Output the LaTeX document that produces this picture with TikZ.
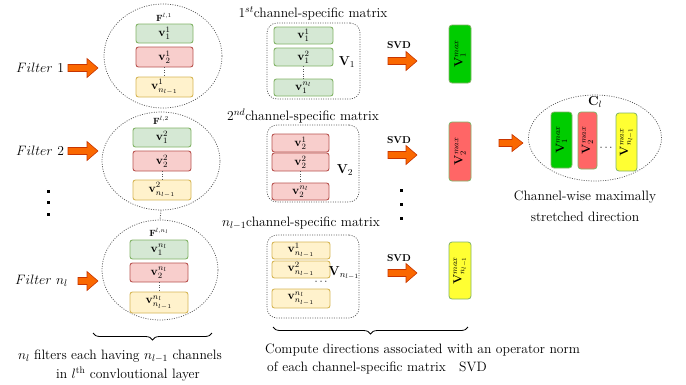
\RequirePackage{fix-cm}
\documentclass[tikz,border=0pt]{standalone}
\usepackage{amsmath}
\usetikzlibrary{shapes.geometric,decorations.pathreplacing}
\definecolor{gfill}{HTML}{D5E8D4}\definecolor{gdraw}{HTML}{82B366}
\definecolor{rfill}{HTML}{F8CECC}\definecolor{rdraw}{HTML}{B85450}
\definecolor{yfill}{HTML}{FFF2CC}\definecolor{ydraw}{HTML}{D6B656}
\definecolor{vgreen}{HTML}{00CC00}\definecolor{vred}{HTML}{FF6666}
\definecolor{vyellow}{HTML}{FFFF33}
\definecolor{arrfill}{HTML}{FA6800}\definecolor{arrdraw}{HTML}{C73500}
\definecolor{dotc}{HTML}{555555}
\newcommand\blockarr[4]{%
  \draw[barrow] (#1,#3-3.5) -- (#2-11,#3-3.5) -- (#2-11,#3-#4) -- (#2,#3)
    -- (#2-11,#3+#4) -- (#2-11,#3+3.5) -- (#1,#3+3.5) -- cycle;}
\tikzset{
  every node/.style={font=\fontsize{13.6}{16.3}\selectfont},
  ell/.style={ellipse, draw=dotc, dash pattern=on 1pt off 1.4pt, line width=0.7pt, inner sep=0pt},
  mrect/.style={draw=dotc, dash pattern=on 1pt off 1.4pt, line width=0.7pt, rounded corners=10pt, inner sep=0pt},
  sbox/.style={rectangle, rounded corners=2.5pt, line width=0.9pt, inner sep=0pt, font=\fontsize{11.8}{13}\selectfont},
  gb/.style={sbox, draw=gdraw, fill=gfill},
  rb/.style={sbox, draw=rdraw, fill=rfill},
  yb/.style={sbox, draw=ydraw, fill=yfill},
  vbox/.style={rectangle, rounded corners=3pt, draw=gdraw, line width=0.8pt, inner sep=0pt, rotate=90, font=\fontsize{12}{13}\selectfont},
  flab/.style={font=\fontsize{9}{10}\selectfont, inner sep=0pt},
  vlab/.style={font=\fontsize{13}{14}\selectfont, inner sep=0pt},
  svd/.style={font=\fontsize{10}{12}\selectfont\bfseries, inner sep=0pt},
  dotline/.style={draw=dotc, dash pattern=on 1pt off 1.4pt, line width=0.8pt},
  sqdot/.style={rectangle, fill=black, minimum size=3pt, inner sep=0pt},
  barrow/.style={fill=arrfill, draw=arrdraw, line width=0.6pt, line join=miter},
  brc/.style={decorate, decoration={brace, mirror, amplitude=7pt}, line width=0.8pt}
}
\begin{document}
\begin{tikzpicture}[x=1pt,y=-1pt]
\useasboundingbox (0,0) rectangle (686,384);

% ---------- left column: filters ----------
\node[ell, minimum width=118pt, minimum height=104pt] (e1) at (163,56) {};
\node[ell, minimum width=118pt, minimum height=98pt] (e2) at (161,161) {};
\node[ell, minimum width=116pt, minimum height=100pt] (e3) at (160,270) {};
\draw[dotline] (e2.south) -- (e3.north);

\node[flab] (f1) at (164,17) {$\mathbf{F}^{l,1}$};
\node[gb, minimum width=57pt, minimum height=19pt] (b11) at (164.5,33.5) {$\mathbf{v}_1^1$};
\node[rb, minimum width=57pt, minimum height=20pt] (b12) at (164.5,57) {$\mathbf{v}_2^1$};
\node[yb, minimum width=57pt, minimum height=20pt] (b13) at (164.5,87) {$\mathbf{v}_{n_{l-1}}^1$};
\draw[dotline] (b12.south) -- (b13.north);

\node[flab] (f2) at (161,120) {$\mathbf{F}^{l,2}$};
\node[gb, minimum width=58pt, minimum height=19pt] (b21) at (162,137.5) {$\mathbf{v}_1^2$};
\node[rb, minimum width=58pt, minimum height=20pt] (b22) at (162,161) {$\mathbf{v}_2^2$};
\node[yb, minimum width=58pt, minimum height=20pt] (b23) at (162,190) {$\mathbf{v}_{n_{l-1}}^2$};
\draw[dotline] (b22.south) -- (b23.north);

\node[flab] (f3) at (159,232) {$\mathbf{F}^{l,n_l}$};
\node[gb, minimum width=58pt, minimum height=19pt] (b31) at (159,249.5) {$\mathbf{v}_1^{n_l}$};
\node[rb, minimum width=58pt, minimum height=19pt] (b32) at (159,272.5) {$\mathbf{v}_2^{n_l}$};
\node[yb, minimum width=58pt, minimum height=21pt] (b33) at (159,302.5) {$\mathbf{v}_{n_{l-1}}^{n_l}$};
\draw[dotline] (b32.south) -- (b33.north);

\node[anchor=west, inner sep=0pt] (t1) at (16,68) {$Filter\ 1$};
\node[anchor=west, inner sep=0pt] (t2) at (16,151) {$Filter\ 2$};
\node[anchor=west, inner sep=0pt] (t3) at (15,281) {$Filter\ n_l$};
\blockarr{68}{98}{68}{9.5}
\blockarr{68}{98}{151}{9.5}
\blockarr{78}{98}{281}{9.5}

\node[sqdot] (ld1) at (48,191) {};
\node[sqdot] (ld2) at (48,202.5) {};
\node[sqdot] (ld3) at (48,214) {};

\coordinate (lbA) at (93,333);
\coordinate (lbB) at (212,333);
\draw[brc] (lbA) -- (lbB);
\node (lt1) at (120,356) {$n_l$ filters each having $n_{l-1}$ channels};
\node (lt2) at (128,374) {in $l^{\text{th}}$ convloutional layer};

% ---------- middle column: channel-specific matrices ----------
\node (h1) at (313,13) {$1^{st}$channel-specific matrix};
\node (h2) at (303,116) {$2^{nd}$channel-specific matrix};
\node (h3) at (301,223) {$n_{l-1}$channel-specific matrix};

\node[mrect, minimum width=93pt, minimum height=76pt] (r1) at (313.5,61) {};
\node[gb, minimum width=59pt, minimum height=17pt] (m11) at (303.5,35.5) {$\mathbf{v}_1^1$};
\node[gb, minimum width=59pt, minimum height=18pt] (m12) at (303.5,57) {$\mathbf{v}_1^2$};
\node[gb, minimum width=59pt, minimum height=17pt] (m13) at (303.5,87.5) {$\mathbf{v}_1^{n_l}$};
\draw[dotline] (m12.south) -- (m13.north);
\node[vlab] (V1) at (347,62) {$\mathbf{V}_1$};

\node[mrect, minimum width=92pt, minimum height=77pt] (r2) at (313,163.5) {};
\node[rb, minimum width=57pt, minimum height=18pt] (m21) at (300.5,143) {$\mathbf{v}_2^1$};
\node[rb, minimum width=57pt, minimum height=18pt] (m22) at (300.5,162) {$\mathbf{v}_2^2$};
\node[rb, minimum width=57pt, minimum height=17pt] (m23) at (300.5,191.5) {$\mathbf{v}_2^{n_l}$};
\draw[dotline] (m22.south) -- (m23.north);
\node[vlab] (V2) at (345,170) {$\mathbf{V}_2$};

\node[mrect, minimum width=92pt, minimum height=83pt] (r3) at (313,276.5) {};
\node[yb, minimum width=58pt, minimum height=17pt] (m31) at (301,250.5) {$\mathbf{v}_{n_{l-1}}^1$};
\node[yb, minimum width=58pt, minimum height=17pt] (m32) at (301,269.5) {$\mathbf{v}_{n_{l-1}}^2$};
\node[yb, minimum width=58pt, minimum height=19pt] (m33) at (301,298.5) {$\mathbf{v}_{n_{l-1}}^{n_l}$};
\node[vlab] (V3) at (344,273) {$\mathbf{V}_{n_{l-1}}$};
\node[inner sep=0pt, font=\fontsize{11}{13}\selectfont] (cd3) at (322,282) {$\cdots$};

\node[svd] (s1) at (399,45) {SVD};
\node[svd] (s2) at (399,140) {SVD};
\node[svd] (s3) at (399,258) {SVD};
\blockarr{388}{417}{61}{9.5}
\blockarr{388}{417}{155}{9.5}
\blockarr{388}{417}{273}{9.5}

\node[sqdot] (md1) at (401,190) {};
\node[sqdot] (md2) at (401,204) {};
\node[sqdot] (md3) at (401,218) {};

\coordinate (mbA) at (273,327);
\coordinate (mbB) at (468,327);
\draw[brc] (mbA) -- (mbB);
\node[anchor=west, inner sep=0pt] (mt1) at (265,350) {Compute directions associated with an operator norm};
\node[anchor=west, inner sep=0pt] (mt2) at (267,368) {of each channel-specific matrix\ \ \ SVD};

% ---------- right: maximal directions ----------
\node[vbox, fill=vgreen, minimum width=58pt, minimum height=22pt] (x1) at (460,54) {$\mathbf{V}^{max}_1$};
\node[vbox, fill=vred, minimum width=59pt, minimum height=22pt] (x2) at (460,151.5) {$\mathbf{V}^{max}_2$};
\node[vbox, fill=vyellow, minimum width=57pt, minimum height=22pt] (x3) at (460,270.5) {$\mathbf{V}^{max}_{n_{l-1}}$};

\blockarr{499}{523}{143}{8.5}

\node[ell, minimum width=133pt, minimum height=86pt] (ec) at (595,138) {};
\node[vlab] (cl) at (595,102) {$\mathbf{C}_l$};
\node[vbox, fill=vgreen, minimum width=56pt, minimum height=21pt] (c1) at (561.5,140) {$\mathbf{V}^{max}_1$};
\node[vbox, fill=vred, minimum width=57pt, minimum height=19pt] (c2) at (587.5,140.5) {$\mathbf{V}^{max}_2$};
\node[vbox, fill=vyellow, minimum width=58pt, minimum height=21pt] (c3) at (626.5,142) {$\mathbf{V}^{max}_{n_{l-1}}$};
\node[inner sep=0pt, font=\fontsize{11}{13}\selectfont] (cdots) at (607,148) {$\cdots$};

\node (rt1) at (585,197) {Channel-wise maximally};
\node (rt2) at (585,217) {stretched direction};
\end{tikzpicture}
\end{document}
